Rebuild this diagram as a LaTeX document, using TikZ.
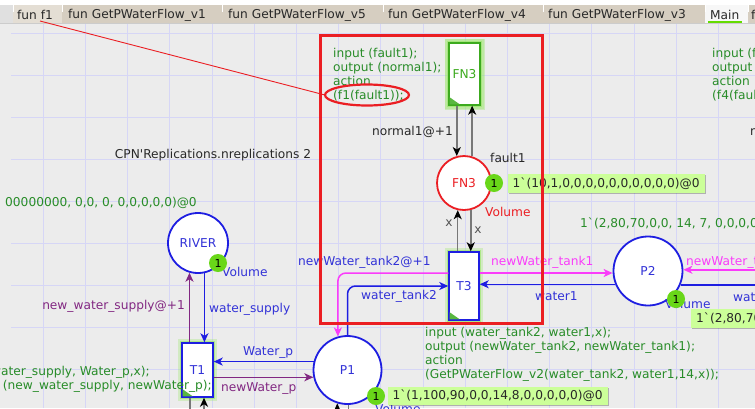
\documentclass[tikz,border=0pt]{standalone}
\usepackage{fontspec}
\newfontfamily\cpnf{DejaVu Sans}
\usetikzlibrary{arrows.meta,calc,shadows}

\definecolor{bgc}{RGB}{236,236,236}
\definecolor{gridc}{RGB}{214,214,246}
\definecolor{cpnblue}{RGB}{30,30,225}
\definecolor{txtblue}{RGB}{50,50,215}
\definecolor{cpnpurple}{RGB}{130,40,130}
\definecolor{cpnmag}{RGB}{250,60,250}
\definecolor{cpngreen}{RGB}{40,140,40}
\definecolor{tokgreen}{RGB}{105,215,25}
\definecolor{tokfill}{RGB}{204,255,153}
\definecolor{cpnred}{RGB}{235,30,35}
\definecolor{tabc}{RGB}{214,206,193}
\definecolor{tablight}{RGB}{228,222,212}
\definecolor{glowc}{RGB}{150,230,100}
\definecolor{fngreen}{RGB}{60,170,30}
\definecolor{arcgray}{RGB}{120,120,120}
\definecolor{inkc}{RGB}{40,40,40}
\definecolor{mainline}{RGB}{100,220,0}

\begin{document}
\begin{tikzpicture}[x=1pt,y=-1pt,
  every node/.style={font=\cpnf\fontsize{12.2pt}{14pt}\selectfont, inner sep=0pt},
  place/.style={circle, draw=cpnblue, line width=1.8pt, fill=white, text=txtblue},
  trans/.style={rectangle, draw=cpnblue, line width=1.4pt, fill=white, text=txtblue,
     preaction={draw=glowc, line width=8pt, opacity=0.3},
     preaction={draw=glowc, line width=4.5pt, opacity=0.6}},
  tok/.style={circle, fill=tokgreen, minimum size=18pt, text=black,
     font=\cpnf\fontsize{11pt}{12pt}\selectfont},
  tokbox/.style={rectangle, fill=tokfill, minimum height=18.5pt, inner xsep=5pt,
     text=inkc, anchor=west,
     drop shadow={shadow xshift=1.2pt, shadow yshift=-1.2pt, opacity=0.25, fill=black}},
  cpnhead/.style={-{Stealth[length=9pt,width=8pt,inset=2.5pt]}},
  arcblue/.style={draw=cpnblue, line width=1.5pt, cpnhead},
  arcpurple/.style={draw=cpnpurple, line width=1.5pt, cpnhead},
  arcmag/.style={draw=cpnmag, line width=1.5pt, cpnhead},
  arcgr/.style={draw=arcgray, line width=1.5pt, -{Stealth[length=9pt,width=8pt,inset=2.5pt,black]}},
  codetext/.style={text=cpngreen, align=left, anchor=north west},
  tabtext/.style={anchor=west, text=inkc}
]
\useasboundingbox (0,0) rectangle (755,408);
\begin{scope}
\clip (0,0) rectangle (755,408);

% background and grid
\fill[bgc] (0,0) rectangle (755,408);
\foreach \k in {1,...,17} \draw[gridc, line width=0.9pt] ({1+42.2*\k},24) -- ({1+42.2*\k},408);
\foreach \k in {0,...,8} \draw[gridc, line width=0.9pt] (11,{33+42*\k}) -- (755,{33+42*\k});

% tab bar
\fill[white] (0,0) rectangle (755,24);
\fill[black!12] (0,5) rectangle (13,23);
\fill[tablight] (13,5) rectangle (62,23);
\fill[tabc] (62,5) rectangle (705,23);
\fill[black!3] (705,5) rectangle (748,23);
\fill[tabc] (748,5) rectangle (755,23);
\foreach \sx in {13,62,222,383,543,705,748} \draw[white, line width=1pt] (\sx,5) -- (\sx,12);
\draw[black!20] (0,23.5) -- (755,23.5);
\node[tabtext] (tab0) at (17,15) {fun f1};
\node[tabtext] (tab1) at (68,15) {fun GetPWaterFlow\_v1};
\node[tabtext] (tab2) at (228,15) {fun GetPWaterFlow\_v5};
\node[tabtext] (tab3) at (388,15) {fun GetPWaterFlow\_v4};
\node[tabtext] (tab4) at (548,15) {fun GetPWaterFlow\_v3};
\node[tabtext] (tab5) at (710,15) {Main};
\node[tabtext] (tab6) at (751,15) {fun};
\draw[mainline, line width=2pt] (708,21.5) -- (742,21.5);

% free texts
\node[text=inkc] (reps) at (213,155) {CPN'Replications.nreplications 2};
\node[anchor=east, text=cpngreen] (rivinit) at (197,203) {00000000, 0,0, 0, 0,0,0,0,0)@0};
\node[anchor=west, text=cpngreen] (p2init) at (580,224) {1`(2,80,70,0,0, 14, 7, 0,0,0,0,0)@0};
\node[codetext] (fn3code) at (333,48) {input (fault1);\\output (normal1);\\action\\(f1(fault1));};
\node[codetext] (f4code) at (712,48) {input (fault4);\\output (normal4);\\action\\(f4(fault4));};
\node[codetext] (t3code) at (425,327) {input (water\_tank2, water1,x);\\output (newWater\_tank2, newWater\_tank1);\\action\\(GetPWaterFlow\_v2(water\_tank2, water1,14,x));};
\node[anchor=east, text=cpngreen] (t1code1) at (150,372) {input (water\_supply, Water\_p,x);};

% places
\node[place, minimum size=60pt] (river) at (198,243) {RIVER};
\node[place, minimum size=68pt] (p1) at (347.5,370) {P1};
\node[place, minimum size=69pt] (p2) at (648,271) {P2};
\node[place, draw=cpnred, text=cpnred, minimum size=54pt] (fn3p) at (464,183) {FN3};

% transitions
\node[trans, draw=fngreen, text=fngreen, minimum width=31pt, minimum height=62pt,
      preaction={draw=glowc, line width=9pt, opacity=0.35}] (fn3t) at (464.5,74) {FN3};
\node[trans, minimum width=31pt, minimum height=54pt] (t1) at (197.5,370) {T1};
\node[trans, minimum width=30pt, minimum height=68pt] (t3) at (464,286) {T3};
\foreach \t in {fn3t,t1,t3}
  \fill[fngreen!85!white] ([xshift=1.4pt,yshift=1.4pt]\t.south west) -- ++(10,0) -- ++(-10,-7) -- cycle;

% coordinates for free ends
\coordinate (redge) at (762,0);
\coordinate (bot) at (0,420);
\coordinate (bl) at (190,420);
\coordinate (br) at (204,420);

% arcs FN3
\draw[arcgr] (fn3p.105 |- fn3t.south) -- (fn3p.105);
\draw[arcgr] (fn3p.73) -- (fn3p.73 |- fn3t.south);
\draw[arcgr] (fn3p.257 |- t3.north) -- (fn3p.257);
\draw[arcgr] (fn3p.284) -- (fn3p.284 |- t3.north);
\node[anchor=east, text=inkc] (lnorm) at (453,131.5) {normal1@+1};
\node[anchor=west, text=inkc] (lfault) at (490,158) {fault1};
\node[text=inkc!80] (lx1) at (449,223) {x};
\node[text=inkc!80] (lx2) at (478,230) {x};

% arcs RIVER - T1
\draw[arcpurple] (river.254 |- t1.north) -- (river.254);
\draw[arcblue] (river.282) -- (river.282 |- t1.north);
\node[anchor=east, text=cpnpurple] (lnws) at (185,306) {new\_water\_supply@+1};
\node[anchor=west, text=txtblue] (lws) at (209,309) {water\_supply};

% arcs T1 - P1
\draw[arcblue] (p1.166) -- (p1.166 -| t1.east);
\draw[arcpurple] (p1.192 -| t1.east) -- (p1.192);
\node[anchor=west, text=txtblue] (lwp) at (243,352) {Water\_p};
\node[anchor=west, text=cpnpurple] (lnwp) at (221,388) {newWater\_p};
\node[anchor=east, text=cpngreen] (t1code2) at (212,386) {output (new\_water\_supply, newWater\_p);};

% arcs below T1 and P1
\draw[arcgray, line width=1.5pt] (bl |- t1.south) -- (bl);
\draw[arcgr] (br) -- (br |- t1.south);
\draw[arcgr] (p1.253 |- bot) -- (p1.253);
\draw[arcgray, line width=1.5pt] (p1.272) -- (p1.272 |- bot);

% arcs T3 - P1
\draw[arcmag, rounded corners=8pt] ($(t3.west)+(0,-13)$) -| (p1.106);
\draw[arcblue, rounded corners=8pt] (p1.north) |- (t3.west);
\node[anchor=west, text=txtblue] (lnwt2) at (298,262) {newWater\_tank2@+1};
\node[anchor=west, text=txtblue] (lwt2) at (361,296) {water\_tank2};

% arcs T3 - P2
\coordinate (t3up) at ($(t3.east)+(0,-13)$);
\draw[arcmag] (t3up) -- (t3up -| p2.west);
\draw[arcblue] (p2.202) -- (p2.202 -| t3.east);
\node[anchor=west, text=cpnmag] (lnwt1) at (491,262) {newWater\_tank1};
\node[anchor=west, text=txtblue] (lw1) at (535,296) {water1};

% arcs P2 - right edge
\draw[arcmag] (p2.2 -| redge) -- (p2.2);
\draw[draw=cpnblue, line width=1.5pt] (p2.-23) -- (p2.-23 -| redge);
\node[anchor=west, text=cpnmag] (lnwt3) at (686,262) {newWater\_tank3};
\node[anchor=west, text=txtblue] (lw3) at (733,297) {water3};
\node[anchor=west, text=inkc] (lnorm4) at (750,131.5) {normal4@+1};

% volume labels and tokens
\node[anchor=west, text=txtblue] (rvol) at (222,272) {Volume};
\node[anchor=west, text=cpnred] (fvol) at (485,212) {Volume};
\node[anchor=west, text=txtblue] (p2vol) at (665,304) {Volume};
\node[anchor=west, text=txtblue] (p1vol) at (375,409) {Volume};

\node[tok] (rtok) at (218,263) {1};
\node[tok] (ftok) at (494,183) {1};
\node[tok] (p1tok) at (376,396) {1};
\node[tok] (p2tok) at (676,299) {1};

\node[tokbox] (fbox) at (507.5,183.3) {1`(10,1,0,0,0,0,0,0,0,0,0,0)@0};
\node[tokbox] (p1box) at (387.3,396) {1`(1,100,90,0,0,14,8,0,0,0,0,0)@0};
\node[tokbox] (p2box) at (691,318.5) {1`(2,80,70,0,0,14,7,0,0,0,0,0)@0};

% highlight
\draw[cpnred, line width=0.9pt] (40,21) -- (325,95);
\draw[cpnred, line width=3pt] (320,35) rectangle (542,323);
\draw[cpnred, line width=2.2pt] (367,95) ellipse [x radius=42, y radius=10.5];
\end{scope}
\end{tikzpicture}
\end{document}
